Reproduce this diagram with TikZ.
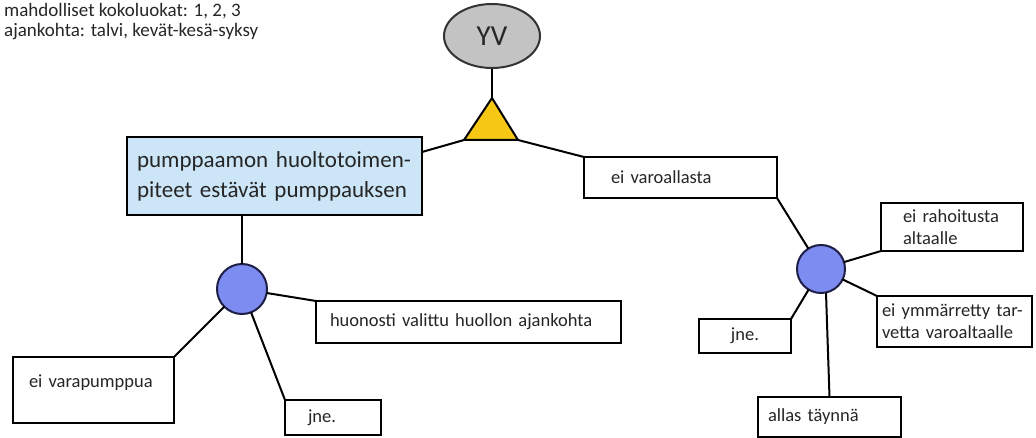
\documentclass[tikz,border=0pt]{standalone}
\usepackage{fontspec}
\setmainfont{Carlito}
\usetikzlibrary{shapes.geometric}
\definecolor{ink}{RGB}{38,38,38}
\definecolor{yvgray}{RGB}{195,195,195}
\definecolor{gold}{RGB}{246,200,20}
\definecolor{dotblue}{RGB}{124,140,240}
\definecolor{dotedge}{RGB}{30,30,70}
\definecolor{paleblue}{RGB}{204,230,248}
\tikzset{
  link/.style={draw=black, line width=2pt},
  labelbox/.style={draw=black, line width=2.4pt, fill=white, outer sep=0pt,
    anchor=north west, align=left, text=ink, inner ysep=0pt,
    font=\fontsize{18.5}{22}\selectfont},
  dot/.style={circle, draw=dotedge, line width=2pt, fill=dotblue,
    inner sep=0pt, outer sep=0pt},
}
\begin{document}
\begin{tikzpicture}[x=1pt, y=-1pt]
\useasboundingbox (0,0) rectangle (1036,438);

% header notes
\node[anchor=north west, align=left, inner sep=0pt, text=ink,
      font=\fontsize{19}{20}\selectfont] (notes) at (4,3)
  {mahdolliset kokoluokat: 1, 2, 3\\ajankohta: talvi, kevät-kesä-syksy};

% top event and gate
\node[ellipse, draw=black!80, line width=2pt, fill=yvgray, minimum width=96pt,
      minimum height=64pt, inner sep=0pt, text=ink,
      font=\fontsize{29}{30}\selectfont] (yv) at (492,36) {YV};
\coordinate (triTop) at (492,98);
\coordinate (triL) at (464,140);
\coordinate (triR) at (518,140);
\filldraw[fill=gold, draw=black, line width=2pt, line join=round]
  (triTop) -- (triL) -- (triR) -- cycle;

% first level
\node[labelbox, fill=paleblue, text width=275pt, inner xsep=10pt,
      minimum height=78pt, font=\fontsize{23}{30}\selectfont] (title) at (127,137)
  {pumppaamon huoltotoimen-\\piteet estävät pumppauksen};
\node[labelbox, text width=139pt, inner xsep=27pt, minimum height=41pt] (varo) at (584,157)
  {ei varoallasta};

% left branch
\node[dot, minimum size=50pt] (circL) at (242,289) {};
\node[labelbox, text width=277pt, inner xsep=14pt, minimum height=42pt] (huon) at (316,301)
  {huonosti valittu huollon ajankohta};
\node[labelbox, text width=129pt, inner xsep=16pt, minimum height=66pt,
      text depth=18pt] (varap) at (13,357)
  {ei varapumppua};
\node[labelbox, text width=50pt, inner xsep=23pt, minimum height=35pt] (jneL) at (285,400)
  {jne.};

% right branch
\node[dot, minimum size=48pt] (circR) at (821,269) {};
\node[labelbox, text width=98pt, inner xsep=22pt, minimum height=48pt] (rah) at (881,203)
  {ei rahoitusta\\altaalle};
\node[labelbox, text width=145pt, inner xsep=5pt, minimum height=51pt] (ymm) at (877,296)
  {ei ymmärretty tar-\\vetta varoaltaalle};
\node[labelbox, text width=30pt, inner xsep=31pt, minimum height=34pt, align=center] (jneR) at (699,319)
  {jne.};
\node[labelbox, text width=123pt, inner xsep=10pt, minimum height=40pt] (allas) at (758,397)
  {allas täynnä};

% connectors
\draw[link] (yv) -- (triTop);
\draw[link] (triL) -- ([yshift=-15pt]title.north east);
\draw[link] (triR) -- (varo.north west);
\draw[link] (circL) -- (circL |- title.south);
\draw[link] (circL) -- (huon.north west);
\draw[link] (circL) -- (varap.north east);
\draw[link] (circL) -- (jneL.north west);
\draw[link] (varo.south east) -- (circR);
\draw[link] (circR) -- (rah.south west);
\draw[link] (circR) -- (ymm.north west);
\draw[link] (circR) -- (jneR.north east);
\draw[link] ([xshift=5pt]circR.south) -- (allas.north);
\end{tikzpicture}
\end{document}
